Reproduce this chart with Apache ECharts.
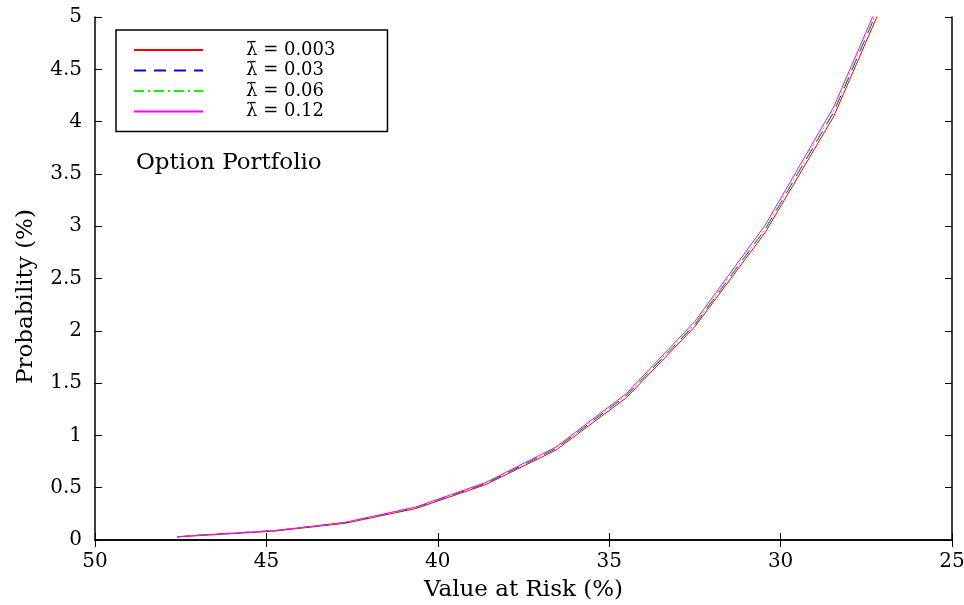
<!DOCTYPE html>
<html>
<head>
<meta charset="utf-8">
<script src="https://cdn.jsdelivr.net/npm/echarts@6/dist/echarts.min.js"></script>
<style>html,body{margin:0;padding:0;background:#fff}#c{width:964px;height:605px}</style>
</head>
<body>
<div id="c"></div>
<script>
const varX = [47.6, 46.8, 44.75, 42.7, 40.65, 38.6, 36.55, 34.5, 32.5, 30.45, 28.45, 26.4];
const prob003 = [0.03, 0.045, 0.085, 0.16, 0.30, 0.53, 0.86, 1.36, 2.04, 2.94, 4.05, 5.60];
const prob03  = [0.03, 0.05, 0.09, 0.165, 0.31, 0.54, 0.875, 1.38, 2.06, 2.97, 4.09, 5.65];
const prob06  = [0.03, 0.05, 0.09, 0.165, 0.31, 0.545, 0.88, 1.385, 2.065, 2.975, 4.10, 5.66];
const prob12  = [0.03, 0.05, 0.09, 0.17, 0.315, 0.55, 0.89, 1.40, 2.09, 3.01, 4.14, 5.70];
const seriesNames = ['λ̄ = 0.003', 'λ̄ = 0.03', 'λ̄ = 0.06', 'λ̄ = 0.12'];
const xTicks = {min: 25, max: 50, interval: 5};
const yTicks = {min: 0, max: 5, interval: 0.5};

const font = 'DejaVu Serif';
const pair = arr => varX.map((x, i) => [x, arr[i]]);

const chart = echarts.init(document.getElementById('c'), null, {renderer: 'canvas'});
const axisLine = {show: true, lineStyle: {color: '#000', width: 1.5}};
const tick = {show: true, inside: true, length: 7, lineStyle: {color: '#000', width: 1}};

chart.setOption({
  backgroundColor: '#fff',
  animation: false,
  title: {
    text: 'Option Portfolio', left: 131, top: 147,
    textStyle: {fontFamily: font, fontSize: 23, fontWeight: 'normal', color: '#000'}
  },
  legend: {
    orient: 'vertical', left: 116, top: 30,
    padding: [11, 52, 11, 17],
    borderColor: '#000', borderWidth: 1.5,
    itemWidth: 69, itemHeight: 12, itemGap: 2.5,
    itemStyle: {opacity: 0},
    textStyle: {fontFamily: font, fontSize: 18, color: '#000', padding: [0, 0, 0, 38]},
    data: seriesNames
  },
  grid: {left: 95, right: 12, top: 17, bottom: 65, containLabel: false, outerBoundsMode: 'none'},
  xAxis: [{
    type: 'value', inverse: true, min: xTicks.min, max: xTicks.max, interval: xTicks.interval,
    position: 'bottom',
    name: 'Value at Risk (%)', nameLocation: 'middle', nameGap: 39,
    nameTextStyle: {fontFamily: font, fontSize: 23, color: '#000'},
    axisLine: axisLine, axisTick: tick, splitLine: {show: false},
    axisLabel: {fontFamily: font, fontSize: 20, color: '#000', margin: 12}
  }, {
    type: 'value', inverse: true, min: xTicks.min, max: xTicks.max, interval: xTicks.interval,
    position: 'top',
    axisLine: axisLine, axisTick: tick, splitLine: {show: false}, axisLabel: {show: false}
  }],
  yAxis: [{
    type: 'value', min: yTicks.min, max: yTicks.max, interval: yTicks.interval,
    position: 'left',
    name: 'Probability (%)', nameLocation: 'middle', nameGap: 57,
    nameTextStyle: {fontFamily: font, fontSize: 23, color: '#000', padding: [0, 36, 0, 0]},
    axisLine: axisLine, axisTick: tick, splitLine: {show: false},
    axisLabel: {fontFamily: font, fontSize: 20, color: '#000', margin: 13}
  }, {
    type: 'value', min: yTicks.min, max: yTicks.max, interval: yTicks.interval,
    position: 'right',
    axisLine: axisLine, axisTick: tick, splitLine: {show: false}, axisLabel: {show: false}
  }],
  series: [
    {name: seriesNames[0], type: 'line', data: pair(prob003), symbol: 'none', clip: true,
      lineStyle: {color: '#ff0000', width: 1}, itemStyle: {color: '#ff0000'}},
    {name: seriesNames[1], type: 'line', data: pair(prob03), symbol: 'none', clip: true,
      lineStyle: {color: '#0000ff', width: 1, type: [12, 8]}, itemStyle: {color: '#0000ff'}},
    {name: seriesNames[2], type: 'line', data: pair(prob06), symbol: 'none', clip: true,
      lineStyle: {color: '#00ff00', width: 1, type: [10, 4, 2, 4]}, itemStyle: {color: '#00ff00'}},
    {name: seriesNames[3], type: 'line', data: pair(prob12), symbol: 'none', clip: true,
      lineStyle: {color: '#ff00ff', width: 1}, itemStyle: {color: '#ff00ff'}}
  ]
});
</script>
</body>
</html>
